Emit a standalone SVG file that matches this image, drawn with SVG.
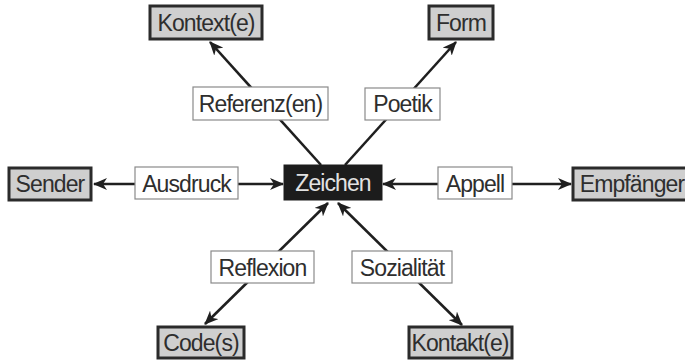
<svg xmlns="http://www.w3.org/2000/svg" width="685" height="360" viewBox="0 0 685 360">
  <style>
    text { font-family: "Liberation Sans", Arial, sans-serif; font-size: 23px; letter-spacing: -0.9px; fill: #2e2e2e; text-anchor: middle; }
    .outer rect { fill: #cfcfcf; stroke: #2b2b2b; stroke-width: 3; }
    .label rect { fill: #ffffff; stroke: #8a8a8a; stroke-width: 1.2; }
    .center rect { fill: #1c1c1c; stroke: #1c1c1c; stroke-width: 1; }
    .center text { fill: #e2e2e2; }
    .edge { stroke: #1f1f1f; stroke-width: 2.6; fill: none; }
  </style>
  <defs>
    <marker id="arrow" viewBox="0 0 14 12" refX="13" refY="6" markerWidth="14" markerHeight="12" markerUnits="userSpaceOnUse" orient="auto-start-reverse">
      <path d="M0,0 L14,6 L0,12 L4,6 z" fill="#1f1f1f"/>
    </marker>
  </defs>

  <!-- connectors -->
  <g id="connectors">
    <line class="edge" x1="94" y1="184" x2="283" y2="184" marker-start="url(#arrow)" marker-end="url(#arrow)"/>
    <line class="edge" x1="383" y1="184" x2="571" y2="184" marker-start="url(#arrow)" marker-end="url(#arrow)"/>
    <line class="edge" x1="321" y1="165" x2="210" y2="42" marker-end="url(#arrow)"/>
    <line class="edge" x1="345" y1="165" x2="456" y2="42" marker-end="url(#arrow)"/>
    <line class="edge" x1="328" y1="203" x2="205" y2="324" marker-start="url(#arrow)" marker-end="url(#arrow)"/>
    <line class="edge" x1="338" y1="203" x2="462" y2="325" marker-start="url(#arrow)" marker-end="url(#arrow)"/>
  </g>

  <!-- outer nodes -->
  <g id="kontext" class="outer">
    <rect x="150" y="6" width="112" height="33"/>
    <text x="206" y="31">Kontext(e)</text>
  </g>
  <g id="form" class="outer">
    <rect x="429" y="6" width="64" height="33"/>
    <text x="461" y="31">Form</text>
  </g>
  <g id="sender" class="outer">
    <rect x="9" y="168" width="82" height="32"/>
    <text x="50" y="192">Sender</text>
  </g>
  <g id="empfaenger" class="outer">
    <rect x="573" y="168" width="120" height="32"/>
    <text x="632" y="192">Empfänger</text>
  </g>
  <g id="codes" class="outer">
    <rect x="158" y="327" width="86" height="31"/>
    <text x="201" y="351">Code(s)</text>
  </g>
  <g id="kontakte" class="outer">
    <rect x="409" y="327" width="103" height="31"/>
    <text x="460" y="351">Kontakt(e)</text>
  </g>

  <!-- centre node -->
  <g id="zeichen" class="center">
    <rect x="284" y="165" width="98" height="35"/>
    <text x="333" y="191">Zeichen</text>
  </g>

  <!-- edge labels -->
  <g id="referenz" class="label">
    <rect x="193" y="87" width="135" height="33"/>
    <text x="260.5" y="112">Referenz(en)</text>
  </g>
  <g id="poetik" class="label">
    <rect x="365" y="88" width="75" height="32"/>
    <text x="402.5" y="112">Poetik</text>
  </g>
  <g id="ausdruck" class="label">
    <rect x="135" y="167" width="103" height="32"/>
    <text x="186.5" y="192">Ausdruck</text>
  </g>
  <g id="appell" class="label">
    <rect x="438" y="167" width="74" height="32"/>
    <text x="475" y="192">Appell</text>
  </g>
  <g id="reflexion" class="label">
    <rect x="211" y="251" width="103" height="32"/>
    <text x="262.5" y="276">Reflexion</text>
  </g>
  <g id="sozialitaet" class="label">
    <rect x="352" y="251" width="100" height="32"/>
    <text x="402" y="276">Sozialität</text>
  </g>
</svg>
